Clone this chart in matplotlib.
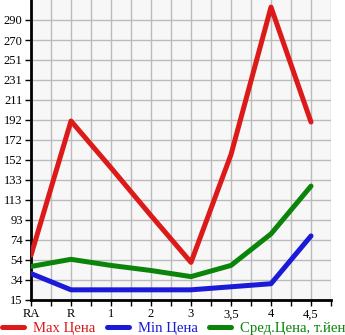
import numpy as np
import matplotlib.pyplot as plt
from matplotlib.lines import Line2D

# Categories along x and the three price series
categories = ['RA', 'R', '1', '2', '3', '3,5', '4', '4,5']
max_price = [59, 191, 145, 98, 52, 158, 303, 190]
min_price = [41, 25, 25, 25, 25, 28, 31, 78]
avg_price = [48, 55, 49, 44, 38, 49, 80, 127]

y_ticks = [15 + k * 295 / 15 for k in range(15)]
y_labels = [str(int(v)) for v in y_ticks]

plt.rcParams['font.family'] = ['Liberation Serif', 'DejaVu Serif']

fig = plt.figure(figsize=(3.45, 3.35), dpi=100)
ax = fig.add_axes([31 / 345, 35 / 335, 300 / 345, 300 / 335])
ax.set_facecolor('#f7f7f7')

x = np.arange(len(categories))
ax.plot(x, max_price, color='#dd1a1a', lw=3.6, solid_capstyle='round', zorder=3)
ax.plot(x, min_price, color='#1a1ad8', lw=3.6, solid_capstyle='round', zorder=3)
ax.plot(x, avg_price, color='#0a850a', lw=3.6, solid_capstyle='round', zorder=3)

ax.set_xlim(0, 7.5)
ax.set_ylim(15, 310)
ax.set_xticks(x)
ax.set_xticklabels(categories)
ax.set_xticks(np.arange(0, 7.51, 0.5), minor=True)
ax.set_yticks(y_ticks)
ax.set_yticklabels(y_labels)

ax.grid(True, which='both', color='#bbbbbb', lw=1)
ax.set_axisbelow(True)
for side in ['top', 'right']:
    ax.spines[side].set_visible(False)
for side in ['left', 'bottom']:
    ax.spines[side].set_linewidth(2)
ax.tick_params(axis='both', which='both', length=4, width=1, labelsize=9, pad=2)
ax.tick_params(axis='x', which='minor', length=4)

handles = [Line2D([], [], color=c, lw=3.6, solid_capstyle='round')
           for c in ['#dd1a1a', '#1a1ad8', '#0a850a']]
labels = ['Max Цена', 'Min Цена', 'Сред.Цена, т.йен']
leg = fig.legend(handles, labels, loc='lower left', bbox_to_anchor=(-0.012, -0.018),
                 ncol=3, frameon=False, fontsize=10.6, handlelength=1.5,
                 handletextpad=0.6, columnspacing=0.8, borderaxespad=0)
for t, c in zip(leg.get_texts(), ['#dd1a1a', '#1a1ad8', '#0a850a']):
    t.set_color(c)

fig.savefig('out.png', dpi=100)
